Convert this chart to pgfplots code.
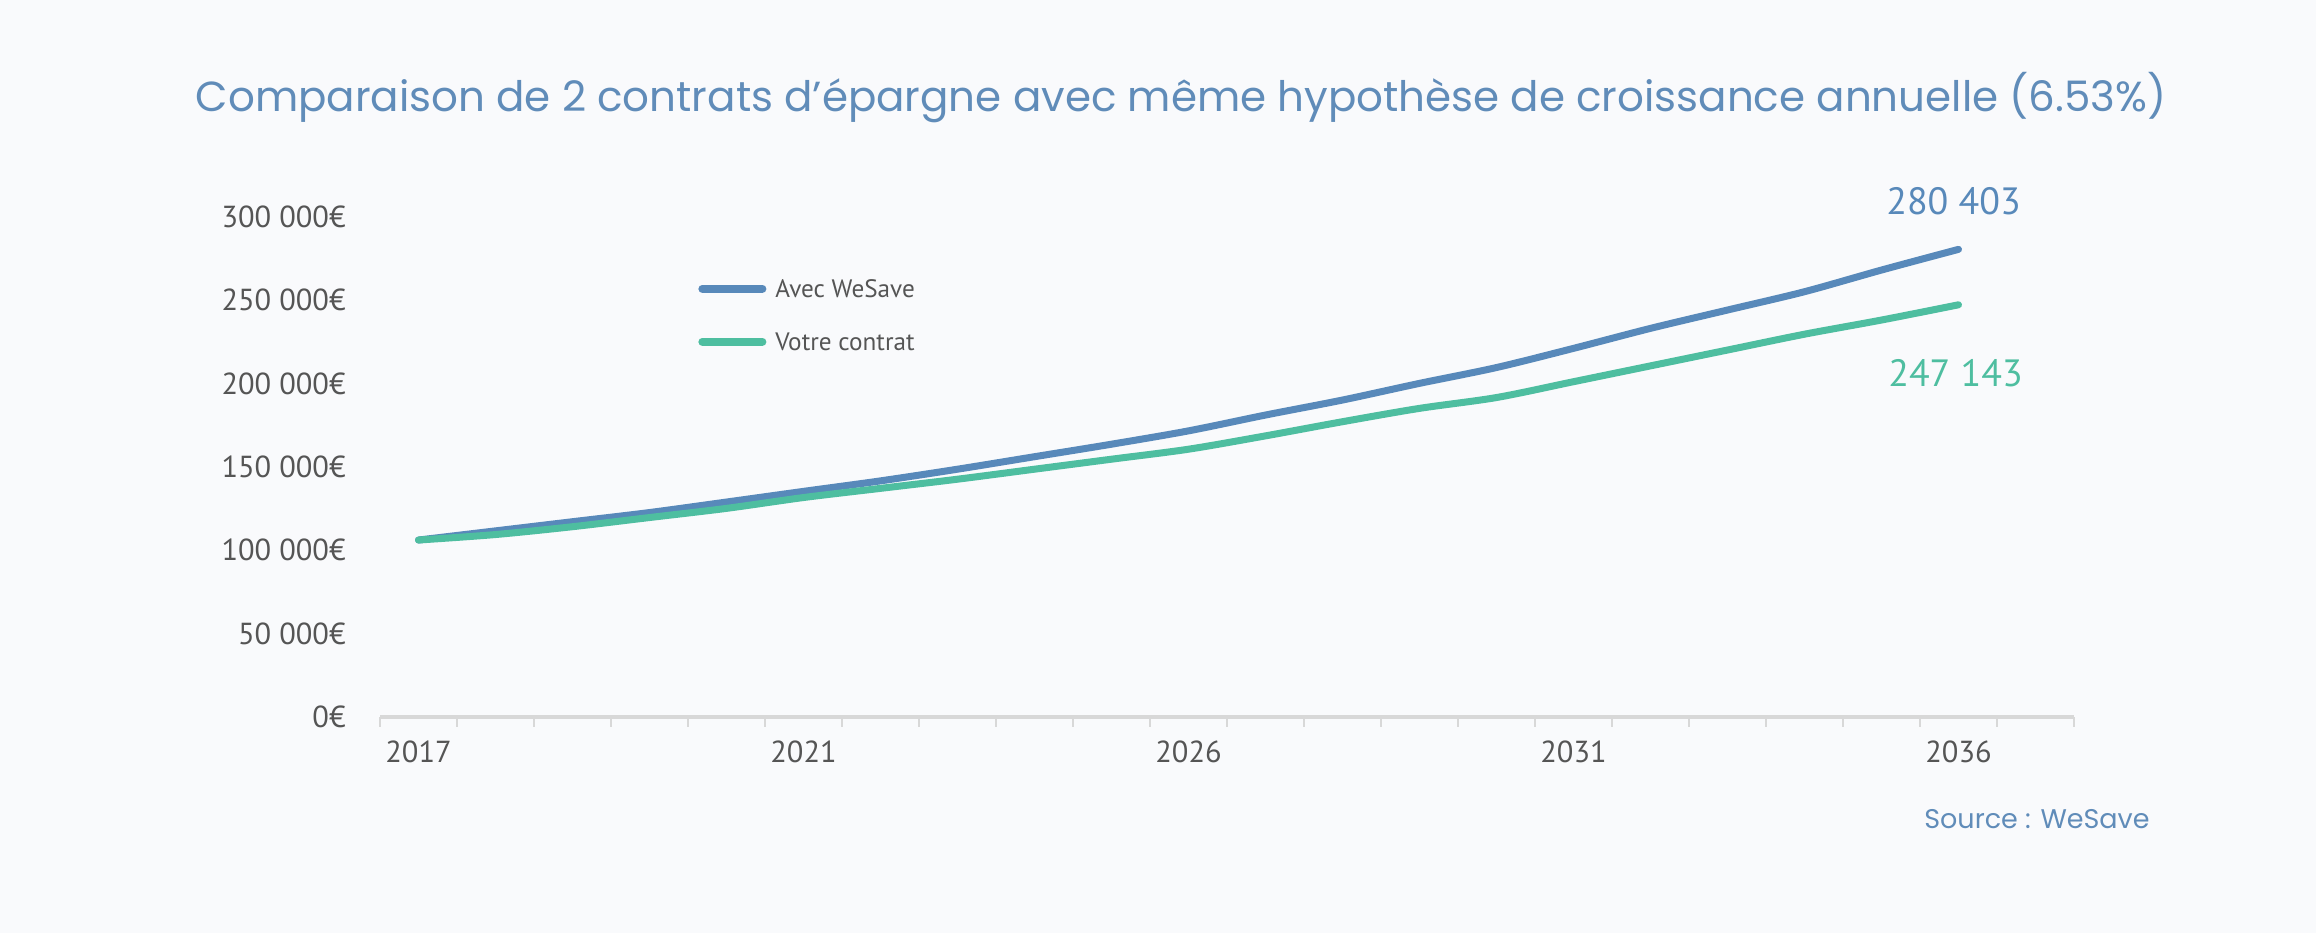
\documentclass[border=0pt]{standalone}
\usepackage{pgfplots}
\pgfplotsset{compat=1.18}
\usepackage{fontspec}
\setmainfont{PT Sans}
\newfontfamily\titlefont{Poppins}
\definecolor{bg}{RGB}{249,250,252}
\definecolor{cblue}{RGB}{88,137,186}
\definecolor{cgreen}{RGB}{78,190,160}
\definecolor{ctitle}{RGB}{96,140,185}
\definecolor{ctick}{RGB}{85,85,85}
\definecolor{caxis}{RGB}{216,216,216}
\pgfplotstableread{
x y
0 106000
1 111500
2 117000
3 122500
4 128800
5 135200
6 141500
7 148500
8 156000
9 163500
10 171500
11 181000
12 190000
13 200000
14 209500
15 221000
16 233000
17 244000
18 255000
19 268000
20 280403
}\wesave
\pgfplotstableread{
x y
0 106000
1 109300
2 114000
3 119500
4 125000
5 131500
6 137000
7 142500
8 148500
9 154500
10 160500
11 168500
12 177000
13 185000
14 191500
15 201000
16 210500
17 220000
18 229500
19 238000
20 247143
}\contrat
\begin{document}
\begin{tikzpicture}
\fill[bg] (0,0) rectangle (1158pt,466.5pt);
\begin{axis}[
  at={(190pt,108.15pt)}, anchor=south west,
  scale only axis, width=847pt, height=250pt,
  xmin=-0.5, xmax=21.5, ymin=0, ymax=300000,
  clip=false,
  scaled y ticks=false,
  axis x line*=bottom, axis y line*=left,
  x axis line style={draw=caxis, line width=2pt, -},
  y axis line style={draw=none},
  xtick={0,5,10,15,20},
  xticklabels={2017,2021,2026,2031,2036},
  minor xtick={-0.5,0.5,...,21.5},
  tick align=outside,
  major tick length=0pt,
  minor tick length=5pt,
  minor x tick style={draw=caxis, line width=0.8pt},
  ytick={0,50000,100000,150000,200000,250000,300000},
  yticklabels={0€,50 000€,100 000€,150 000€,200 000€,250 000€,300 000€},
  ytick style={draw=none},
  ticklabel style={font=\fontsize{15.2}{18}\selectfont, text=ctick},
  yticklabel style={anchor=east, inner sep=0pt, xshift=-17pt},
  xticklabel style={anchor=base, inner sep=0pt, yshift=-22.7pt},
  legend image code/.code={\draw[#1, line width=4pt, line cap=round] (0pt,0pt) -- (30pt,0pt);},
  legend style={draw=none, fill=none, at={(0.1877,0.803)}, anchor=west,
    font=\fontsize{12.6}{14}\selectfont, text=ctick,
    row sep=17.5pt, inner sep=0pt,
    nodes={text height=9pt, text depth=0pt, inner sep=0pt},
    /tikz/every odd column/.append style={column sep=4.5pt}},
  legend cell align=left,
]
\addplot[cblue, line width=3.5pt, smooth, line cap=round, line join=round] table {\wesave};
\addplot[cgreen, line width=3.5pt, smooth, line cap=round, line join=round] table {\contrat};
\legend{Avec WeSave, Votre contrat}
\node[text=cblue, font=\fontsize{19}{22}\selectfont, xshift=-2.5pt, yshift=24pt] at (axis cs:20,280403) {280 403};
\node[text=cgreen, font=\fontsize{19}{22}\selectfont, xshift=-1.5pt, yshift=-34pt] at (axis cs:20,247143) {247 143};
\end{axis}
\node[anchor=base, text=ctitle, font=\titlefont\fontsize{21}{26}\selectfont] at (590.5pt,410.65pt) {Comparaison de 2 contrats d’épargne avec même hypothèse de croissance annuelle (6.53\%)};
\node[anchor=base east, inner sep=0pt, text=ctitle, font=\titlefont\fontsize{13.5}{16}\selectfont] at (1075pt,52.5pt) {Source : WeSave};
\pgfresetboundingbox
\useasboundingbox (0,0) rectangle (1158pt,466.5pt);
\end{tikzpicture}
\end{document}
